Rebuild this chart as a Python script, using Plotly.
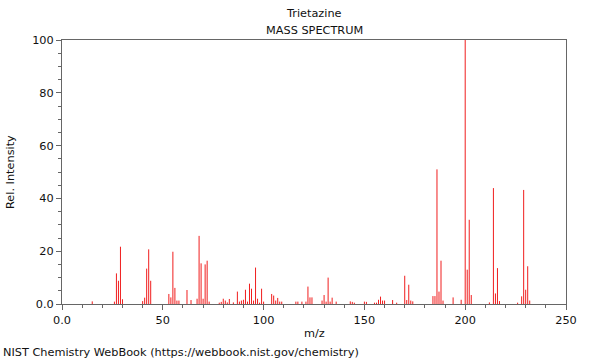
import plotly.graph_objects as go

title = "Trietazine"
subtitle = "MASS SPECTRUM"
footer = "NIST Chemistry WebBook (https://webbook.nist.gov/chemistry)"

mz = [15, 26, 27, 28, 29, 30, 40, 41, 42, 43, 44, 53, 54, 55, 56, 57, 58, 62,
      64, 67, 68, 69, 70, 71, 72, 73, 78, 79, 80, 81, 82, 83, 85, 87, 88, 89,
      90, 91, 92, 93, 94, 95, 96, 97, 98, 99, 100, 104, 105, 106, 107, 108, 109,
      116, 117, 119, 121, 122, 123, 124, 129, 130, 131, 132, 133, 134, 136,
      143, 144, 145, 150, 151, 155, 156, 157, 158, 159, 160, 164, 166,
      170, 171, 172, 173, 174, 184, 185, 186, 187, 188, 189,
      194, 198, 200, 201, 202, 203, 212, 214, 215, 216, 217,
      226, 228, 229, 230, 231, 232]
intensity = [1.0, 0.9, 11.6, 8.8, 21.7, 1.8, 1.1, 2.4, 13.4, 20.7, 8.8, 3.8, 2.5, 19.8, 6.1, 1.3, 1.3, 5.3,
             1.5, 2.0, 25.8, 15.4, 2.0, 15.0, 16.4, 0.9, 0.5, 0.8, 2.0, 1.3, 0.6, 1.9, 0.6, 4.7, 0.9, 1.3,
             1.6, 5.4, 0.9, 7.7, 5.8, 1.3, 13.8, 2.0, 0.5, 5.8, 0.9, 3.8, 3.2, 1.3, 2.3, 0.9, 0.9,
             0.9, 0.9, 0.9, 0.9, 6.6, 2.5, 2.5, 1.3, 3.4, 0.9, 10.0, 0.9, 2.4, 0.9,
             1.0, 0.8, 0.5, 0.9, 0.8, 0.5, 0.5, 1.6, 2.8, 1.3, 1.3, 1.5, 0.5,
             10.7, 1.5, 7.3, 1.3, 1.0, 3.0, 3.0, 51.0, 4.7, 16.4, 1.3,
             2.5, 1.6, 100.0, 13.0, 31.9, 3.4, 0.6, 43.9, 4.0, 13.6, 1.1,
             0.5, 2.9, 43.2, 5.4, 14.3, 1.3]

x_ticks = [0, 50, 100, 150, 200, 250]
x_labels = ["0.0", "50", "100", "150", "200", "250"]
y_ticks = [0, 20, 40, 60, 80, 100]
y_labels = ["0.0", "20", "40", "60", "80", "100"]

xs, ys = [], []
for m, v in zip(mz, intensity):
    xs += [m, m, None]
    ys += [0, v, None]

FONT = "DejaVu Sans, sans-serif"
TXT = dict(family=FONT, size=11.3, color="#111")
fig = go.Figure()
fig.add_trace(go.Scatter(x=xs, y=ys, mode="lines",
                         line=dict(color="rgb(240,30,30)", width=1),
                         hoverinfo="skip", showlegend=False))

axis_common = dict(showline=True, linecolor="#666666", linewidth=1, mirror=True,
                   showgrid=False, zeroline=False, ticks="outside", automargin=False,
                   tickcolor="#666666", ticklen=5, tickwidth=1,
                   tickfont=TXT)

fig.update_layout(
    width=600, height=360,
    margin=dict(l=62, r=34, t=40, b=56, autoexpand=False),
    paper_bgcolor="white", plot_bgcolor="white",
    font=TXT,
    xaxis=dict(range=[0, 250], tickvals=x_ticks, ticktext=x_labels,
               minor=dict(dtick=10, tick0=0, ticklen=3, ticks="outside", tickcolor="#666666"),
               **axis_common),
    yaxis=dict(range=[0, 100], tickvals=y_ticks, ticktext=y_labels,
               minor=dict(dtick=5, tick0=0, ticklen=3, ticks="outside", tickcolor="#666666"),
               **axis_common),
    annotations=[
        dict(text=title, xref="paper", x=0.5, yref="paper", y=1, yshift=27,
             yanchor="middle", showarrow=False, font=TXT),
        dict(text=subtitle, xref="paper", x=0.5, yref="paper", y=1, yshift=10,
             yanchor="middle", showarrow=False, font=TXT),
        dict(text="m/z", xref="paper", x=0.5, yref="paper", y=0, yshift=-29,
             yanchor="middle", showarrow=False, font=TXT),
        dict(text="Rel. Intensity", xref="paper", x=0, xshift=-52, xanchor="center",
             yref="paper", y=0.5, yanchor="middle", textangle=-90, showarrow=False, font=TXT),
        dict(text=footer, xref="paper", x=0, xshift=-61, xanchor="left",
             yref="paper", y=0, yshift=-48, yanchor="middle", showarrow=False, font=TXT),
    ],
)

fig.write_html("out.html", config={"displayModeBar": False},
               post_script="document.body.style.margin='0';")
